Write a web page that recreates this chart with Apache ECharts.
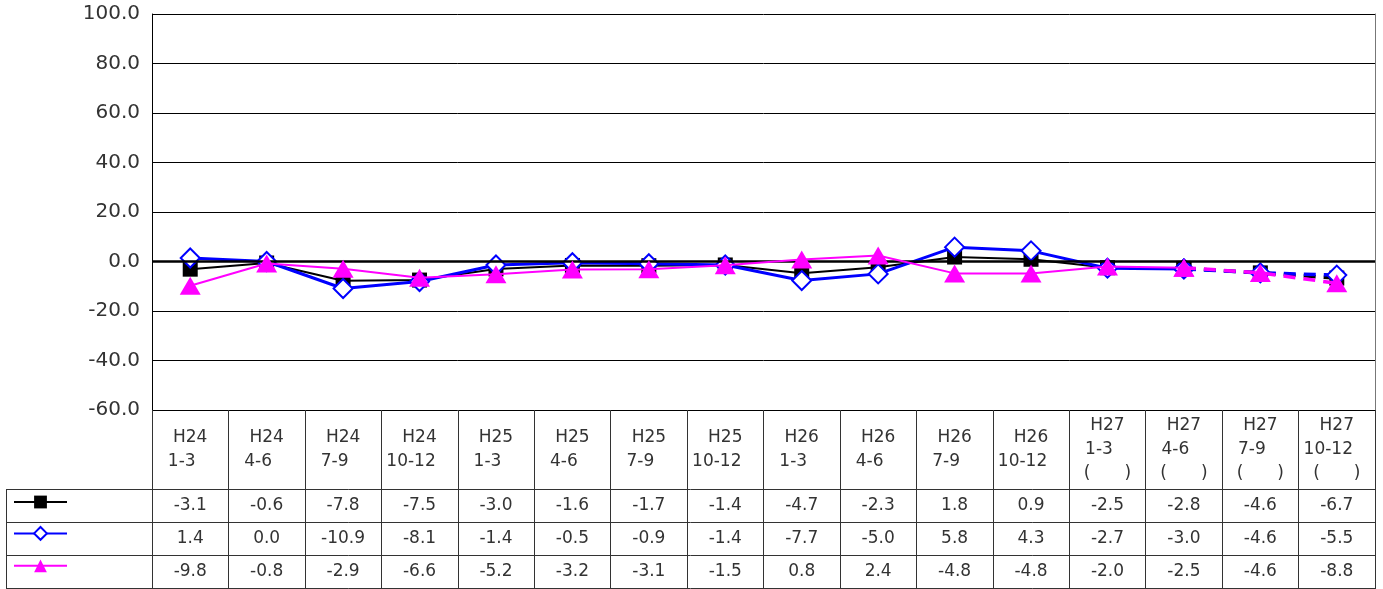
<!DOCTYPE html>
<html>
<head>
<meta charset="utf-8">
<script src="https://cdn.jsdelivr.net/npm/echarts@6/dist/echarts.min.js"></script>
<style>
html, body { margin: 0; padding: 0; background: #fff; }
#chart { width: 1383px; height: 589px; }
</style>
</head>
<body>
<div id="chart"></div>
<script>
// period labels (the missing Japanese glyphs are kept as full-width spaces)
const periods = [
    'H24\n1-3\u3000', 'H24\n4-6\u3000', 'H24\n7-9\u3000', 'H24\n10-12\u3000',
    'H25\n1-3\u3000', 'H25\n4-6\u3000', 'H25\n7-9\u3000', 'H25\n10-12\u3000',
    'H26\n1-3\u3000', 'H26\n4-6\u3000', 'H26\n7-9\u3000', 'H26\n10-12\u3000',
    'H27\n1-3\u3000\n(\u3000\u3000)', 'H27\n4-6\u3000\n(\u3000\u3000)',
    'H27\n7-9\u3000\n(\u3000\u3000)', 'H27\n10-12\u3000\n(\u3000\u3000)'
];
const seriesBlack = [-3.1, -0.6, -7.8, -7.5, -3.0, -1.6, -1.7, -1.4, -4.7, -2.3, 1.8, 0.9, -2.5, -2.8, -4.6, -6.7];
const seriesBlue = [1.4, 0.0, -10.9, -8.1, -1.4, -0.5, -0.9, -1.4, -7.7, -5.0, 5.8, 4.3, -2.7, -3.0, -4.6, -5.5];
const seriesMagenta = [-9.8, -0.8, -2.9, -6.6, -5.2, -3.2, -3.1, -1.5, 0.8, 2.4, -4.8, -4.8, -2.0, -2.5, -4.6, -8.8];
const dashFrom = 13; // forecast part drawn dashed from here on

const FONT = 'DejaVu Sans';
const TXT = '#333';

const chart = echarts.init(document.getElementById('chart'));

function solidPart(vals) {
    return vals.map((v, i) => (i <= dashFrom ? v : null));
}
function dashPart(vals) {
    return vals.map((v, i) => (i >= dashFrom ? v : null));
}

const styles = [
    { name: '系列1', vals: seriesBlack, color: '#000', width: 2, symbol: 'rect', size: 15, fill: '#000', border: 0 },
    { name: '系列2', vals: seriesBlue, color: '#0000ff', width: 3, symbol: 'diamond', size: 19, fill: '#fff', border: 2 },
    { name: '系列3', vals: seriesMagenta, color: '#ff00ff', width: 2, symbol: 'triangle', size: [21, 18], fill: '#ff00ff', border: 0 },
];

const series = [];
styles.forEach((s, k) => {
    const base = {
        type: 'line',
        symbol: s.symbol,
        symbolSize: s.size,
        connectNulls: false,
        z: 3 + k,
        itemStyle: { color: s.fill, borderColor: s.color, borderWidth: s.border },
    };
    series.push(Object.assign({}, base, {
        name: s.name,
        data: solidPart(s.vals),
        lineStyle: { color: s.color, width: s.width, type: 'solid' },
    }));
    series.push(Object.assign({}, base, {
        name: s.name + '_f',
        data: dashPart(s.vals),
        lineStyle: { color: s.color, width: 3.5, type: [12, 8] },
    }));
});
// zero line
series[0].markLine = {
    silent: true,
    symbol: ['none', 'none'],
    label: { show: false },
    lineStyle: { color: '#000', width: 2.5, type: 'solid' },
    data: [{ yAxis: 0 }],
};

function rowAxis(vals, margin) {
    return {
        type: 'category',
        gridIndex: 0,
        position: 'bottom',
        data: periods,
        boundaryGap: true,
        axisLine: { show: false, onZero: false },
        axisTick: { show: false },
        axisLabel: {
            interval: 0,
            margin: margin,
            verticalAlign: 'middle',
            fontFamily: FONT,
            fontSize: 17,
            color: TXT,
            formatter: (v, i) => vals[i].toFixed(1),
        },
    };
}

const rowsY = [489, 522, 555, 588];
const graphics = rowsY.map((y) => ({
    type: 'line',
    silent: true,
    shape: { x1: 6, y1: y + 0.5, x2: 1375, y2: y + 0.5 },
    style: { stroke: '#333', lineWidth: 1 },
}));
graphics.push({
    type: 'line',
    silent: true,
    shape: { x1: 6.5, y1: 489, x2: 6.5, y2: 589 },
    style: { stroke: '#333', lineWidth: 1 },
});

chart.setOption({
    animation: false,
    backgroundColor: '#fff',
    grid: { left: 152, right: 8, top: 14, bottom: 179, containLabel: false },
    legend: {
        orient: 'vertical',
        left: 13,
        top: 494,
        padding: 0,
        itemWidth: 53,
        itemHeight: 16,
        itemGap: 17,
        data: styles.map((s) => s.name),
        formatter: () => '',
        textStyle: { fontSize: 10 },
        selectedMode: false,
    },
    xAxis: [
        {
            type: 'category',
            data: periods,
            boundaryGap: true,
            axisLine: { show: false, onZero: false },
            axisTick: { show: true, interval: 0, length: 179, lineStyle: { color: '#333' } },
            axisLabel: {
                interval: 0,
                margin: 40,
                verticalAlign: 'middle',
                lineHeight: 24,
                fontFamily: FONT,
                fontSize: 17,
                color: TXT,
            },
            splitLine: { show: false },
        },
        rowAxis(seriesBlack, 96),
        rowAxis(seriesBlue, 129),
        rowAxis(seriesMagenta, 162),
    ],
    yAxis: [
        {
            type: 'value',
            min: -60,
            max: 100,
            interval: 20,
            axisLine: { show: true, onZero: false, lineStyle: { color: '#000', width: 1 } },
            axisTick: { show: false },
            axisLabel: {
                margin: 12,
                fontFamily: FONT,
                fontSize: 20,
                color: TXT,
                formatter: (v) => v.toFixed(1),
            },
            splitLine: { show: true, lineStyle: { color: '#000', width: 1 } },
        },
        {
            type: 'value',
            position: 'right',
            min: -60,
            max: 100,
            interval: 20,
            axisLine: { show: true, onZero: false, lineStyle: { color: '#777', width: 1 } },
            axisTick: { show: false },
            axisLabel: { show: false },
            splitLine: { show: false },
        },
    ],
    graphic: graphics,
    series: series,
});
</script>
</body>
</html>
